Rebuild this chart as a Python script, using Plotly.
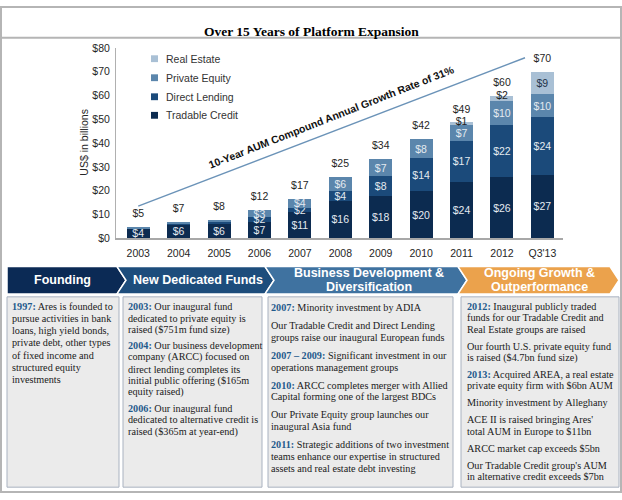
import plotly.graph_objects as go

W, H = 622, 500
def px(x): return x / W
def py(y): return 1 - y / H

# ---------------- data ----------------
categories = ["2003", "2004", "2005", "2006", "2007", "2008", "2009", "2010", "2011", "2012", "Q3'13"]
tradable_credit = [4.1, 6.0, 6.2, 7.0, 11.0, 15.8, 17.8, 19.7, 23.8, 25.8, 26.8]
direct_lending  = [0.1, 0.3, 1.0, 1.9, 1.8, 3.9, 8.2, 13.9, 17.0, 21.9, 24.0]
private_equity  = [0.5, 0.4, 0.5, 2.9, 3.9, 6.1, 7.4, 8.2, 7.2, 10.2, 9.9]
real_estate     = [0.0, 0.0, 0.0, 0.0, 0.0, 0.0, 0.0, 0.0, 0.7, 1.9, 9.1]
totals          = [5, 7, 8, 12, 17, 25, 34, 42, 49, 60, 70]
series_names = ["Tradable Credit", "Direct Lending", "Private Equity", "Real Estate"]
y_ticks = [0, 10, 20, 30, 40, 50, 60, 70, 80]
trend_start = (0, 13.5)     # (category index, US$ bn)
trend_end = (9.57, 75.9)
trend_label = "10-Year AUM Compound Annual Growth Rate of 31%"

colors = ["#0c2b50", "#1b4a7a", "#5b86ac", "#a9c0d5"]
label_colors = ["#e4eaf0", "#e4eaf0", "#e4eaf0", "#24344a"]
SANS = "Liberation Sans, Arial, sans-serif"
SERIF = "Liberation Serif, Times New Roman, serif"

idx = list(range(len(categories)))
series = [tradable_credit, direct_lending, private_equity, real_estate]

fig = go.Figure()

for name, vals, col, lcol in zip(series_names, series, colors, label_colors):
    if name == "Real Estate":
        labels = [f"${v:.0f}" if v >= 5 else "" for v in vals]
    else:
        labels = [f"${v:.0f}" if v >= 1.5 else "" for v in vals]
    fig.add_trace(go.Bar(
        x=idx, y=vals, name=name, marker=dict(color=col, line=dict(width=0)),
        width=0.57, text=labels, textposition="inside", insidetextanchor="middle",
        textangle=0, constraintext="none",
        textfont=dict(family=SANS, size=10.5, color=lcol),
        showlegend=False, hoverinfo="skip"))

tops = [sum(v) for v in zip(*series)]
# small real estate labels sitting on top of the stack
re_small = [f"${v:.0f}" if 0.5 <= v < 5 else "" for v in real_estate]
fig.add_trace(go.Scatter(x=idx, y=tops, mode="text", text=re_small,
                         textposition="middle center",
                         textfont=dict(family=SANS, size=10.5, color="#222222"),
                         showlegend=False, hoverinfo="skip"))
# totals
fig.add_trace(go.Scatter(x=idx, y=tops, mode="markers+text", text=[f"${t}" for t in totals],
                         textposition="top center",
                         marker=dict(size=10, color="rgba(0,0,0,0)"),
                         textfont=dict(family=SANS, size=10.5, color="#262626"),
                         showlegend=False, hoverinfo="skip"))

# trend line
fig.add_shape(type="line", xref="x", yref="y",
              x0=trend_start[0], y0=trend_start[1], x1=trend_end[0], y1=trend_end[1],
              line=dict(color="#6b93b8", width=1.5))
fig.add_annotation(x=4.77, y=51.0, xref="x", yref="y", text=f"<b>{trend_label}</b>",
                   showarrow=False, textangle=-21.5,
                   font=dict(family=SANS, size=10.5, color="#111111"))

fig.update_layout(
    width=W, height=H, margin=dict(l=0, r=0, t=0, b=0),
    paper_bgcolor="white", plot_bgcolor="white",
    barmode="stack", bargap=0.43,
    uniformtext=dict(minsize=10.5, mode="show"),
    showlegend=False,
    xaxis=dict(domain=[px(116), px(563)], range=[-0.55, 10.51],
               tickvals=idx, ticktext=categories, showgrid=False, zeroline=False,
               showline=True, linecolor="#a8a8a8", linewidth=2, ticks="",
               ticklabelstandoff=4,
               tickfont=dict(family=SANS, size=10.5, color="#262626")),
    yaxis=dict(domain=[py(238), py(43)], range=[0, 80], tickvals=y_ticks,
               ticktext=[f"${t}" for t in y_ticks], showgrid=False, zeroline=False,
               showline=True, linecolor="#b0b0b0", linewidth=1, ticks="",
               ticklabelstandoff=3,
               tickfont=dict(family=SANS, size=10.5, color="#262626")),
)

# y-axis title
fig.add_annotation(x=px(84), y=py(140), xref="paper", yref="paper", text="US$ in billions",
                   showarrow=False, textangle=-90, xanchor="center", yanchor="middle",
                   font=dict(family=SANS, size=10.5, color="#262626"))

# manual legend (Real Estate on top)
leg_y = [54, 73.5, 93, 112]
for name, col, yy in zip(series_names[::-1], colors[::-1], leg_y):
    fig.add_shape(type="rect", xref="paper", yref="paper",
                  x0=px(151), x1=px(158), y0=py(yy + 3.5), y1=py(yy - 3.5),
                  fillcolor=col, line=dict(width=0))
    fig.add_annotation(x=px(164), y=py(yy), xref="paper", yref="paper", text=name,
                       showarrow=False, xanchor="left", yanchor="middle",
                       font=dict(family=SANS, size=10.5, color="#333333"))

# frame and title
fig.add_shape(type="rect", xref="paper", yref="paper", x0=px(1), x1=px(621), y0=py(1), y1=py(498),
              line=dict(color="#b5b5b5", width=2))
fig.add_shape(type="line", xref="paper", yref="paper", x0=px(1), x1=px(621), y0=py(32.5), y1=py(32.5),
              line=dict(color="#b5b5b5", width=2))
fig.add_annotation(x=px(311), y=py(16.5), xref="paper", yref="paper",
                   text="<b>Over 15 Years of Platform Expansion</b>", showarrow=False,
                   font=dict(family=SERIF, size=13.5, color="#000000"))

# chevron headers
def path(pts):
    return "M " + " L ".join(f"{px(a):.5f},{py(b):.5f}" for a, b in pts) + " Z"

top, mid, bot = 267, 281, 295
chevrons = [
    ([(7, top), (117, top), (126, mid), (117, bot), (7, bot)], "#0b2a55"),
    ([(117, top), (265, top), (274, mid), (265, bot), (117, bot), (126, mid)], "#1d4d7c"),
    ([(265, top), (458, top), (467, mid), (458, bot), (265, bot), (274, mid)], "#3f72a0"),
    ([(458, top), (610, top), (619, mid), (610, bot), (458, bot), (467, mid)], "#eba24c"),
]
for pts, col in chevrons:
    fig.add_shape(type="path", xref="paper", yref="paper", path=path(pts),
                  fillcolor=col, line=dict(color="white", width=1.5))

def head(x, y, text):
    fig.add_annotation(x=px(x), y=py(y), xref="paper", yref="paper", text=f"<b>{text}</b>",
                       showarrow=False, xanchor="center", yanchor="middle",
                       font=dict(family=SANS, size=12.5, color="white"))

head(62, 281, "Founding")
head(198, 281, "New Dedicated Funds")
head(369, 274, "Business Development &")
head(369, 288, "Diversification")
head(539, 274, "Ongoing Growth &")
head(539, 288, "Outperformance")

# text boxes
boxes = [(7, 119), (123, 262), (268, 453), (461, 619)]
for x0, x1 in boxes:
    fig.add_shape(type="rect", xref="paper", yref="paper", x0=px(x0), x1=px(x1),
                  y0=py(298), y1=py(493), fillcolor="#ebebeb",
                  line=dict(color="#a9b2c0", width=1))

YR = "#1f5a8c"
def yr(s):
    return f"<span style='color:{YR}'><b>{s}</b></span>"

box_text = [
    [[yr("1997:") + " Ares is founded to", "pursue activities in bank", "loans, high yield bonds,",
      "private debt, other types", "of fixed income and", "structured equity", "investments"]],
    [[yr("2003:") + " Our inaugural fund", "dedicated to private equity is", "raised ($751m fund size)"],
     [yr("2004:") + " Our business development", "company (ARCC) focused on",
      "direct lending completes its", "initial public offering ($165m", "equity raised)"],
     [yr("2006:") + " Our inaugural fund", "dedicated to alternative credit is",
      "raised ($365m at year-end)"]],
    [[yr("2007:") + " Minority investment by ADIA"],
     ["Our Tradable Credit and Direct Lending", "groups raise our inaugural European funds"],
     [yr("2007 – 2009:") + " Significant investment in our", "operations management groups"],
     [yr("2010:") + " ARCC completes merger with Allied", "Capital forming one of the largest BDCs"],
     ["Our Private Equity group launches our", "inaugural Asia fund"],
     [yr("2011:") + " Strategic additions of two investment", "teams enhance our expertise in structured",
      "assets and real estate debt investing"]],
    [[yr("2012:") + " Inaugural publicly traded", "funds for our Tradable Credit and",
      "Real Estate groups are raised"],
     ["Our fourth U.S. private equity fund", "is raised ($4.7bn fund size)"],
     [yr("2013:") + " Acquired AREA, a real estate", "private equity firm with $6bn AUM"],
     ["Minority investment by Alleghany"],
     ["ACE II is raised bringing Ares'", "total AUM in Europe to $11bn"],
     ["ARCC market cap exceeds $5bn"],
     ["Our Tradable Credit group's AUM", "in alternative credit exceeds $7bn"]],
]
# (text x, first line y, line step, paragraph extra gap)
box_style = [(10, 308, 12.4, 0), (126, 308, 12.0, 4.0), (269, 309, 12.0, 6.5), (465, 308, 11.6, 5.8)]

for paras, (tx, ty, step, gap) in zip(box_text, box_style):
    y = ty
    for pi, para in enumerate(paras):
        if pi > 0:
            y += gap
        for line in para:
            fig.add_annotation(x=px(tx), y=py(y), xref="paper", yref="paper", text=line,
                               showarrow=False, xanchor="left", yanchor="middle",
                               font=dict(family=SERIF, size=10.2, color="#1a1a1a"))
            y += step

fig.write_html("out.html", config={"displayModeBar": False},
               post_script="document.body.style.margin='0';document.body.style.overflow='hidden';")
